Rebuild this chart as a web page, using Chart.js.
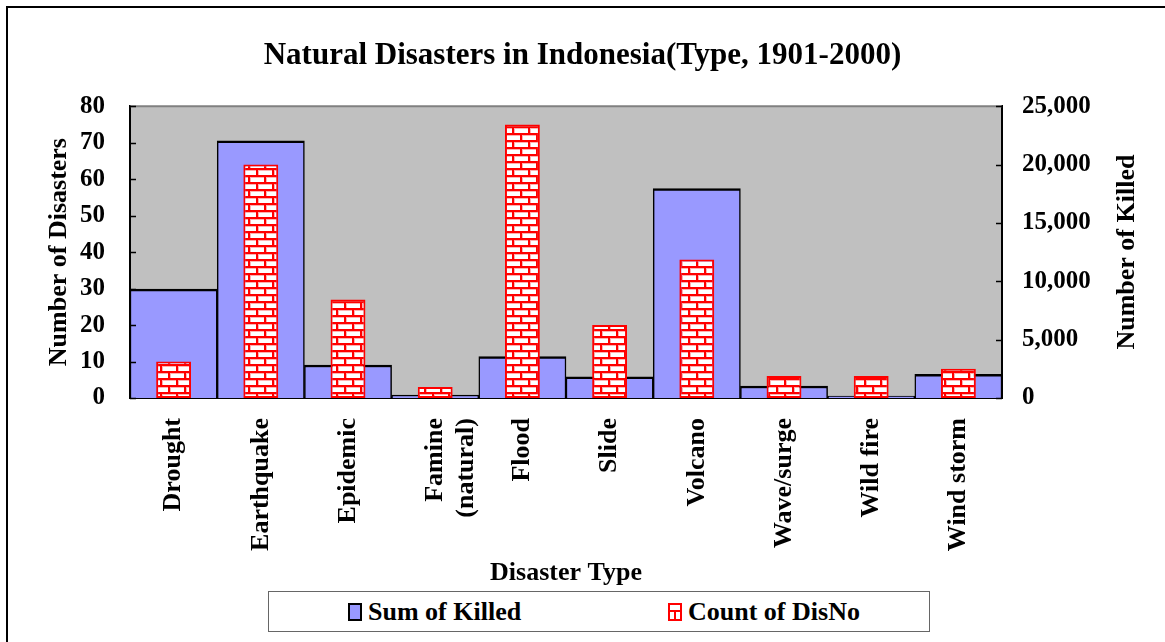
<!DOCTYPE html>
<html>
<head>
<meta charset="utf-8">
<script src="https://cdn.jsdelivr.net/npm/chart.js@4.4.1/dist/chart.umd.min.js"></script>
<style>
  html, body { margin: 0; padding: 0; background: #fff; }
  #wrap { position: relative; width: 1165px; height: 642px; overflow: hidden; }
  #chart { position: absolute; left: 0; top: 0; }
  #legend {
    position: absolute; left: 268px; top: 591px; width: 660px; height: 39px;
    border: 1.5px solid #666; background: #fff;
    font: bold 26px "Liberation Serif", "Times New Roman", serif; color: #000;
  }
  #legend .item { position: absolute; top: 0; height: 39px; line-height: 40px; white-space: nowrap; }
  #legend .sw { position: absolute; top: 11px; width: 10px; height: 14px; border: 2px solid #000; }
  #legend .sw.killed { background: #9999ff; }
  #legend .sw.count {
    border-color: #ff0000;
    background:
      linear-gradient(#ff0000, #ff0000) 0 5px / 100% 2px no-repeat,
      linear-gradient(#ff0000, #ff0000) 4px 5px / 2px 10px no-repeat,
      #fff;
  }
  #legend .txt { position: absolute; left: 20px; top: 0; }
</style>
</head>
<body>
<div id="wrap">
  <canvas id="chart" width="1165" height="642"></canvas>
  <div id="legend">
    <div class="item" style="left: 79px;"><span class="sw killed"></span><span class="txt">Sum of Killed</span></div>
    <div class="item" style="left: 399px;"><span class="sw count"></span><span class="txt">Count of DisNo</span></div>
  </div>
</div>
<script>
// Natural disasters in Indonesia, by type (1901-2000)
const categories = ['Drought', 'Earthquake', 'Epidemic', ['Famine', '(natural)'], 'Flood',
                    'Slide', 'Volcano', 'Wave/surge', 'Wild fire', 'Wind storm'];
const sumKilled  = [9330, 22030, 2830, 250, 3540, 1820, 17950, 1030, 170, 2030];
const countDisNo = [10, 64, 27, 3, 75, 20, 38, 6, 6, 8];

const leftTicks  = [0, 10, 20, 30, 40, 50, 60, 70, 80];
const rightTicks = [0, 5000, 10000, 15000, 20000, 25000];

const FONT = '"Liberation Serif", "Times New Roman", serif';
Chart.defaults.font.family = FONT;
Chart.defaults.color = '#000';

// red brick hatch like the Excel fill
function brickPattern() {
  const c = document.createElement('canvas');
  c.width = 16; c.height = 14;
  const g = c.getContext('2d');
  g.fillStyle = '#fff';
  g.fillRect(0, 0, 16, 14);
  g.fillStyle = '#ffb0b0';
  g.fillRect(0, 0, 16, 3); g.fillRect(0, 7, 16, 3);
  g.fillRect(0, 0, 3, 7); g.fillRect(8, 7, 3, 7);
  g.fillStyle = '#ff0000';
  g.fillRect(0, 0, 16, 2); g.fillRect(0, 7, 16, 2);
  g.fillRect(0, 0, 2, 7); g.fillRect(8, 7, 2, 7);
  return g.createPattern(c, 'repeat');
}

const framePlugin = {
  id: 'frame',
  beforeDraw(chart) {
    const { ctx, chartArea: a } = chart;
    ctx.save();
    ctx.fillStyle = '#fff';
    ctx.fillRect(0, 0, chart.width, chart.height);
    // outer chart border (runs off the right/bottom)
    ctx.strokeStyle = '#000';
    ctx.lineWidth = 2;
    ctx.beginPath();
    ctx.moveTo(7, chart.height + 2);
    ctx.lineTo(7, 7);
    ctx.lineTo(chart.width + 2, 7);
    ctx.stroke();
    // gray plot area
    ctx.fillStyle = '#c0c0c0';
    ctx.fillRect(a.left, a.top, a.right - a.left, a.bottom - a.top);
    ctx.restore();
  },
  afterDatasetsDraw(chart) {
    const { ctx, chartArea: a, scales } = chart;
    ctx.save();
    ctx.strokeStyle = '#808080';
    ctx.lineWidth = 2;
    ctx.beginPath();
    ctx.moveTo(a.left, a.top);
    ctx.lineTo(a.right, a.top);
    ctx.stroke();

    // inward tick marks
    ctx.strokeStyle = '#000';
    ctx.lineWidth = 1.5;
    ctx.beginPath();
    scales.y.ticks.forEach(t => {
      const p = Math.round(scales.y.getPixelForValue(t.value)) + 0.5;
      ctx.moveTo(a.left, p); ctx.lineTo(a.left + 6, p);
    });
    scales.y2.ticks.forEach(t => {
      const p = Math.round(scales.y2.getPixelForValue(t.value)) + 0.5;
      ctx.moveTo(a.right - 6, p); ctx.lineTo(a.right, p);
    });
    ctx.stroke();

    // right axis title reads bottom-to-top like the left one
    ctx.translate(1127, (a.top + a.bottom) / 2);
    ctx.rotate(-Math.PI / 2);
    ctx.font = 'bold 26px ' + FONT;
    ctx.fillStyle = '#000';
    ctx.textAlign = 'center';
    ctx.textBaseline = 'middle';
    ctx.fillText('Number of Killed', 0, 0);
    ctx.restore();
  }
};

const tickFont = { size: 25, weight: 'bold' };

new Chart(document.getElementById('chart'), {
  type: 'bar',
  data: {
    labels: categories,
    datasets: [
      {
        label: 'Sum of Killed',
        data: sumKilled,
        yAxisID: 'y2',
        backgroundColor: '#9999ff',
        borderColor: '#000',
        borderWidth: { top: 2.5, left: 1.5, right: 1.5, bottom: 0 },
        borderSkipped: false,
        barPercentage: 1,
        categoryPercentage: 1,
        grouped: false,
        order: 2,
      },
      {
        label: 'Count of DisNo',
        data: countDisNo,
        yAxisID: 'y',
        backgroundColor: brickPattern(),
        borderColor: '#ff0000',
        borderWidth: 2,
        borderSkipped: false,
        barPercentage: 0.4,
        categoryPercentage: 1,
        grouped: false,
        order: 1,
      }
    ]
  },
  options: {
    responsive: false,
    animation: false,
    layout: { padding: 0 },
    plugins: {
      legend: { display: false },
      tooltip: { enabled: false },
      title: {
        display: true,
        text: 'Natural Disasters in Indonesia(Type, 1901-2000)',
        color: '#000',
        font: { size: 31, weight: 'bold', lineHeight: 1.2 },
        padding: { top: 37, bottom: 32 },
      }
    },
    scales: {
      x: {
        grid: { display: false, drawTicks: false },
        border: { display: true, color: '#000', width: 2 },
        ticks: { minRotation: 90, maxRotation: 90, autoSkip: false, padding: 20, font: { size: 26, weight: 'bold' } },
        title: {
          display: true, text: 'Disaster Type',
          font: { size: 26, weight: 'bold', lineHeight: 1.2 },
          padding: { top: 0, bottom: 53 },
        },
        afterFit: s => { s.height = 244; },
      },
      y: {
        position: 'left',
        min: 0, max: 80,
        afterBuildTicks: s => { s.ticks = leftTicks.map(v => ({ value: v })); },
        grid: { display: false, drawTicks: false },
        border: { display: true, color: '#000', width: 2 },
        ticks: { padding: 25, font: tickFont },
        title: {
          display: true, text: 'Number of Disasters',
          font: { size: 26, weight: 'bold', lineHeight: 1.2 },
          padding: { top: 44, bottom: 0 },
        },
        afterFit: s => { s.width = 130; },
      },
      y2: {
        position: 'right',
        min: 0, max: 25000,
        afterBuildTicks: s => { s.ticks = rightTicks.map(v => ({ value: v })); },
        grid: { display: false, drawTicks: false },
        border: { display: true, color: '#000', width: 2 },
        ticks: { padding: 20, font: tickFont, callback: v => Number(v).toLocaleString('en-US') },
        afterFit: s => { s.width = 163; },
      }
    }
  },
  plugins: [framePlugin]
});
</script>
</body>
</html>
